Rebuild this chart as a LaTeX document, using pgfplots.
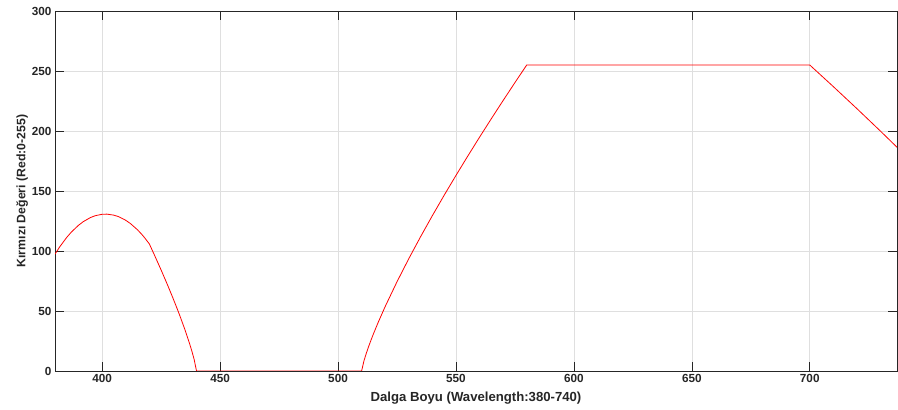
\documentclass[border=0pt]{standalone}
\usepackage{pgfplots}
\pgfplotsset{compat=1.18}
\usepackage{fontspec}
\setmainfont{Liberation Sans}
\definecolor{axgray}{RGB}{38,38,38}
\definecolor{gridgray}{RGB}{223,223,223}

% Red channel of the wavelength-to-RGB mapping (gamma 0.8)
\pgfplotstableread{
w     r
380   97.33
382   103.47
385   111.41
387   115.90
390   121.49
392   124.47
395   127.84
397   129.38
400   130.62
402   130.73
405   129.86
407   128.57
410   125.57
412   122.84
415   117.64
417   113.41
418   111.06
420   105.89
422   97.33
425   84.12
427   75.01
428   70.37
430   60.82
432   50.87
433   45.72
435   34.93
437   23.21
438   16.78
439   9.64
440   0
510   0
511   8.52
512   14.83
513   20.52
514   25.83
515   30.88
517   40.41
520   53.76
525   74.35
530   93.60
535   111.90
540   129.47
545   146.46
550   162.97
555   179.07
560   194.82
565   210.26
570   225.42
575   240.32
580   255
700   255
710   236.99
720   218.63
730   199.87
737   186.47
}\redchannel

\begin{document}
\begin{tikzpicture}
\useasboundingbox (-55bp,-39bp) rectangle (843bp,371bp);
\begin{axis}[
  at={(0,0)}, anchor=south west,
  scale only axis,
  width=842bp, height=360bp,
  xmin=380, xmax=737, ymin=0, ymax=300,
  xtick={400,450,...,700},
  ytick={0,50,...,300},
  grid=major,
  major grid style={gridgray, line width=0.5pt},
  axis line style={axgray, line width=0.6pt},
  tick style={axgray, line width=0.6pt},
  major tick length=9bp,
  tick align=inside,
  xtick pos=both, ytick pos=both,
  tick label style={font=\fontsize{11.8}{13}\selectfont\bfseries, text=axgray},
  /pgf/number format/assume math mode=true,
  xlabel={Dalga Boyu (Wavelength:380-740)},
  ylabel={Kırmızı Değeri (Red:0-255)},
  xlabel style={font=\fontsize{13.2}{15}\selectfont\bfseries, text=axgray, yshift=-2bp},
  ylabel style={font=\fontsize{12.3}{14}\selectfont\bfseries, text=axgray, yshift=-3bp},
]
\addplot[red, line width=0.8pt, mark=none] table[x=w, y=r] {\redchannel};
\end{axis}
\end{tikzpicture}
\end{document}
